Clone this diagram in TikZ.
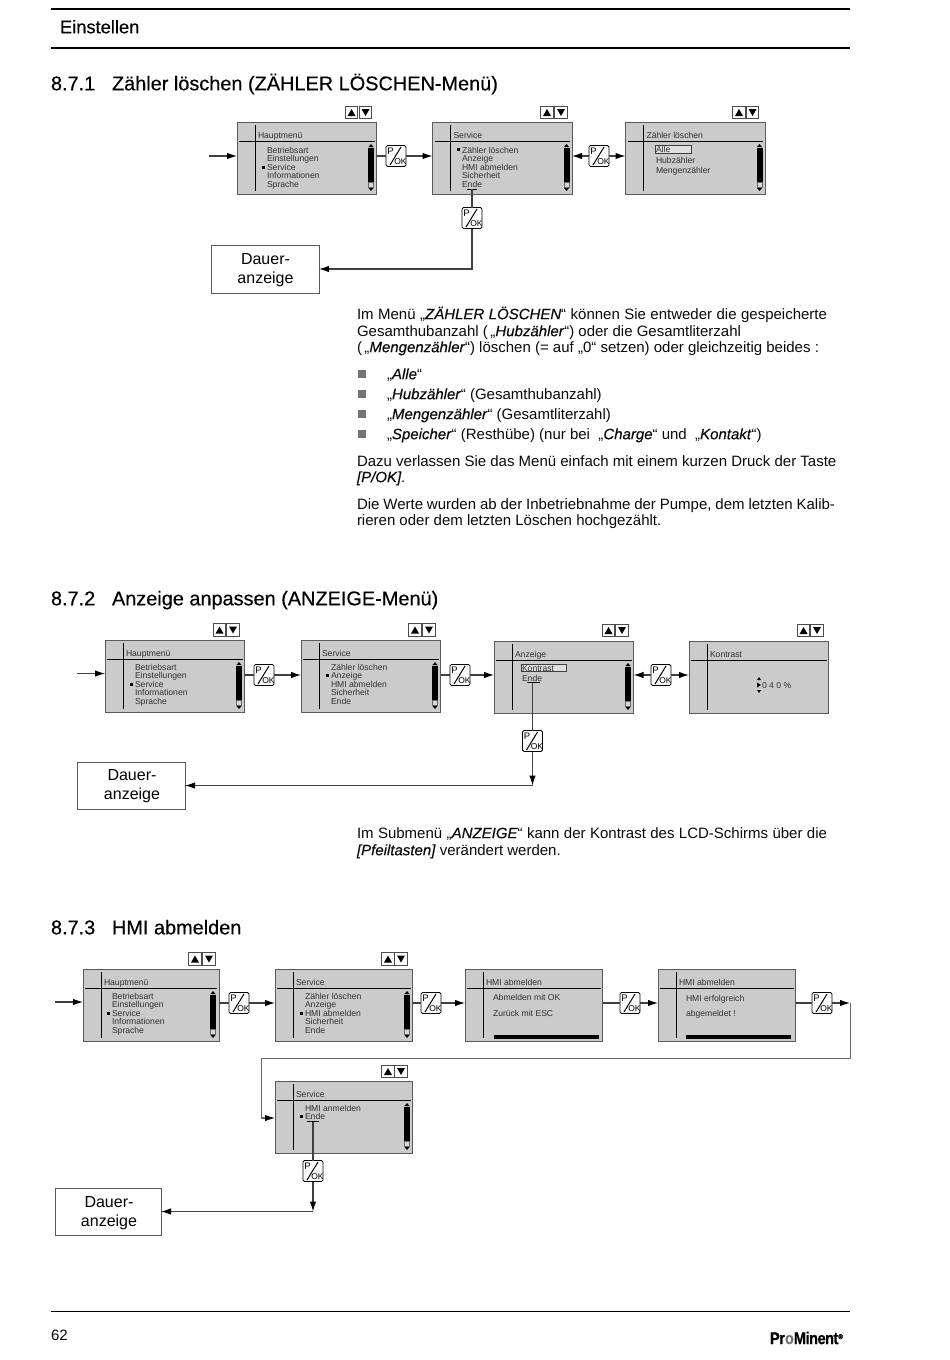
\documentclass[tikz,border=0pt]{standalone}
\usepackage{fontspec}
\setmainfont{Liberation Sans}
\usetikzlibrary{arrows.meta}
\definecolor{lcdfill}{HTML}{CBCBCB}
\definecolor{lcdedge}{HTML}{5A5A5A}
\definecolor{lcdtext}{HTML}{303030}
\definecolor{bodyink}{HTML}{0A0A0A}
\newcounter{tn}
\tikzset{
  x=1pt,y=-1pt,outer sep=0pt,
  lcdbox/.style={draw=lcdedge,line width=1pt,fill=lcdfill,inner sep=0,anchor=north west,minimum height=72pt},
  lcdrule/.style={line width=.9pt,black},
  lcdlabel/.style={anchor=base west,yshift=-3pt,inner sep=0,text=lcdtext,font=\fontsize{8.6}{10}\selectfont},
  bodytext/.style={anchor=base west,yshift=-5.2pt,inner sep=0,text=bodyink,font=\fontsize{15}{17}\selectfont},
  headtext/.style={anchor=base west,yshift=-7.3pt,inner sep=0,text=black,font=\fontsize{19.9}{24}\selectfont\addfontfeatures{FakeBold=.35}},
  restbox/.style={draw=lcdedge,line width=.8pt,fill=white,inner sep=0},
  resttext/.style={inner sep=0,align=center,text=black,font=\fontsize{16}{19}\selectfont},
  okbtn/.style={draw=black,line width=.8pt,fill=white,rounded corners=1.5pt,minimum width=20pt,minimum height=21pt,inner sep=0},
  keybtn/.style={draw=black!70,line width=.8pt,fill=white,minimum width=12.5pt,minimum height=12.5pt,inner sep=0},
  wire/.style={draw=black!75,line width=1.1pt},
  flow/.style={wire,-{Latex[length=10pt,width=6.5pt,black]}},
  sq/.style={fill=black!55,minimum width=8pt,minimum height=8pt,inner sep=0},
}
% text helper
\newcommand{\tx}[4]{\stepcounter{tn}\node[#1] (t\arabic{tn}) at (#2,#3) {#4};}
% LCD: name x y width title
\newcommand{\lcd}[5]{%
  \node[lcdbox,minimum width=#4 pt] (#1) at (#2,#3) {};
  \draw[lcdrule] (#2+18,#3+3) -- (#2+18,#3+69);
  \draw[lcdrule] (#2+2,#3+19) -- (#2+#4-2,#3+19);
  \tx{lcdlabel}{#2+21}{#3+13}{#5}}
% scroll bar: right edge, top
\newcommand{\sbar}[2]{%
  \fill[black] (#1-8.5,#2+25) -- (#1-3.5,#2+25) -- (#1-6,#2+22) -- cycle;
  \fill[black] (#1-9,#2+26) rectangle (#1-3,#2+60);
  \filldraw[fill=white!85!black,draw=black!60,line width=.3pt] (#1-8.5,#2+60) rectangle (#1-3.5,#2+65);
  \fill[black] (#1-8.5,#2+66) -- (#1-3.5,#2+66) -- (#1-6,#2+69) -- cycle;}
% up/down keys: name left-centre right-centre y
\newcommand{\keypair}[4]{%
  \node[keybtn] (#1u) at (#2,#4) {};
  \node[keybtn] (#1d) at (#3,#4) {};
  \fill[black] (#2-4,#4+3.5) -- (#2+4,#4+3.5) -- (#2,#4-3.5) -- cycle;
  \fill[black] (#3-4,#4-3.5) -- (#3+4,#4-3.5) -- (#3,#4+3.5) -- cycle;}
% P/OK button
\newcommand{\pok}[3]{%
  \node[okbtn] (#1) at (#2,#3) {};
  \draw[line width=1pt,black] (#2-6,#3+9) -- (#2+5,#3-9);
  \node[anchor=center,inner sep=0,font=\fontsize{9.5}{10}\selectfont] (#1p) at (#2-5.5,#3-4.5) {P};
  \node[anchor=center,inner sep=0,font=\fontsize{8.5}{10}\selectfont] (#1k) at (#2+4.5,#3+5.5) {OK};}
\newcommand{\lcdmark}[2]{\fill[black] (#1-1.5,#2-1.5) rectangle (#1+1.5,#2+1.5);}
\newcommand{\ital}[1]{\textit{\addfontfeatures{FakeBold=.4}#1}}
\begin{document}
\begin{tikzpicture}
\useasboundingbox (0,0) rectangle (950,1360);
\fill[white] (0,0) rectangle (950,1360);
% page frame
\coordinate (r1a) at (51,9); \coordinate (r1b) at (850,9);
\coordinate (r2a) at (51,47.5); \coordinate (r2b) at (850,47.5);
\coordinate (r3a) at (51,1311.5); \coordinate (r3b) at (850,1311.5);
\draw[line width=1.3pt] (r1a) -- (r1b);
\draw[line width=2pt] (r2a) -- (r2b);
\draw[line width=1.3pt] (r3a) -- (r3b);
\tx{headtext,font=\fontsize{18.3}{22}\selectfont\addfontfeatures{FakeBold=.35}}{60}{26}{Einstellen}
\tx{bodytext}{51}{1335}{62}
\node[anchor=west,inner sep=0,font=\fontsize{17}{20}\bfseries\selectfont\addfontfeatures{FakeBold=.5,FakeStretch=.86,LetterSpace=-3}] (logo) at (770,1338) {Pr\textcolor{black!55}{o}Minent\raisebox{5pt}{\fontsize{7}{7}\selectfont ®}};

% ---------- 8.7.1
\tx{headtext}{51}{83}{8.7.1}
\tx{headtext}{112}{83}{Zähler löschen (ZÄHLER LÖSCHEN-Menü)}
\lcd{a1}{237}{122}{139.5}{Hauptmenü}
\lcd{a2}{432.5}{122}{139.5}{Service}
\lcd{a3}{625.5}{122}{139.5}{Zähler löschen}
\sbar{377}{122}\sbar{572.5}{122}\sbar{765.5}{122}
\keypair{ka1}{351.5}{365.5}{112.5}
\keypair{ka2}{547}{561}{112.5}
\keypair{ka3}{739}{752.5}{112.5}
\foreach \s [count=\i from 0] in {Betriebsart,Einstellungen,Service,Informationen,Sprache}{\tx{lcdlabel}{267}{150+8.5*\i}{\s}}
\lcdmark{263}{167}
\foreach \s [count=\i from 0] in {Zähler löschen,Anzeige,HMI abmelden,Sicherheit,Ende}{\tx{lcdlabel}{462}{150+8.5*\i}{\s}}
\lcdmark{458.5}{149.5}
\node[draw=black!75,line width=.8pt,fill=lcdfill!60!white,minimum width=36pt,minimum height=8pt,inner sep=0] (al) at (673,149) {};
\tx{lcdlabel}{656}{149}{Alle}
\tx{lcdlabel}{656}{160}{Hubzähler}
\tx{lcdlabel}{656}{170}{Mengenzähler}
\coordinate (in1) at (209,156);
\coordinate (e1) at (472,189);
\coordinate (el1) at (467,189); \coordinate (er1) at (477,189);
\draw[line width=.8pt] (el1) -- (er1);
\pok{p1}{396}{156}\pok{p2}{599}{156}\pok{p3}{472}{218}
\node[restbox,minimum width=108pt,minimum height=48pt] (d1) at (265,269) {};
\tx{resttext}{265.5}{270.5}{Dauer-\\anzeige}
\draw[flow] (in1) -- (a1.west |- in1);
\draw[flow] (p1.east) -- (a2.west |- p1.east);
\draw[wire] (a1.east |- p1.west) -- (p1.west);
\draw[flow] (p2.west) -- (a2.east |- p2.west);
\draw[flow] (p2.east) -- (a3.west |- p2.east);
\draw[wire] (e1) -- (p3.north);
\coordinate (c1) at (p3.south |- d1.east);
\draw[flow] (p3.south) -- (c1) -- (d1.east);
% body 1
\tx{bodytext}{357}{314}{\makebox[470pt][s]{Im Menü „\ital{ZÄHLER LÖSCHEN}“ können Sie entweder die gespeicherte}}
\tx{bodytext}{357}{331}{Gesamthubanzahl (\,„\ital{Hubzähler}“) oder die Gesamtliterzahl}
\tx{bodytext}{357}{347}{(\,„\ital{Mengenzähler}“) löschen (= auf „0“ setzen) oder gleichzeitig beides :}
\foreach \yy/\s in {374/{„\ital{Alle}“},394/{„\ital{Hubzähler}“ (Gesamthubanzahl)},414/{„\ital{Mengenzähler}“ (Gesamtliterzahl)},434/{„\ital{Speicher}“ (Resthübe) (nur bei\ \ „\ital{Charge}“ und\ \ „\ital{Kontakt}“)}}{
  \node[sq] (b\yy) at (362,\yy) {};
  \tx{bodytext}{387}{\yy}{\s}}
\tx{bodytext}{357}{461}{Dazu verlassen Sie das Menü einfach mit einem kurzen Druck der Taste}
\tx{bodytext}{357}{477}{\ital{[P/OK]}.}
\tx{bodytext}{357}{504}{\makebox[478pt][s]{Die Werte wurden ab der Inbetriebnahme der Pumpe, dem letzten Kalib-}}
\tx{bodytext}{357}{520}{rieren oder dem letzten Löschen hochgezählt.}

% ---------- 8.7.2
\tx{headtext}{51}{598}{8.7.2}
\tx{headtext}{112}{598}{Anzeige anpassen (ANZEIGE-Menü)}
\lcd{m1}{105}{640}{139.5}{Hauptmenü}
\lcd{m2}{301}{640}{139.5}{Service}
\lcd{m3}{494}{641}{139.5}{Anzeige}
\lcd{m4}{689}{641}{139.5}{Kontrast}
\sbar{245}{640}\sbar{441}{640}\sbar{634}{641}
\keypair{km1}{219.5}{233}{630}
\keypair{km2}{415}{429}{630}
\keypair{km3}{608.5}{622}{630.5}
\keypair{km4}{803.5}{817}{630.5}
\foreach \s [count=\i from 0] in {Betriebsart,Einstellungen,Service,Informationen,Sprache}{\tx{lcdlabel}{135}{667+8.5*\i}{\s}}
\lcdmark{131}{684}
\foreach \s [count=\i from 0] in {Zähler löschen,Anzeige,HMI abmelden,Sicherheit,Ende}{\tx{lcdlabel}{331}{667+8.5*\i}{\s}}
\lcdmark{327}{675.5}
\node[draw=black!75,line width=.8pt,fill=lcdfill!60!white,minimum width=45pt,minimum height=7.5pt,inner sep=0] (kb) at (544,668) {};
\tx{lcdlabel}{522}{668}{Kontrast}
\tx{lcdlabel}{522}{678}{Ende}
\tx{lcdlabel}{762}{685}{0 4 0 \%}
\fill[black] (757,680) -- (761,680) -- (759,677) -- cycle;
\fill[black] (757,682.5) -- (757,687.5) -- (761,685) -- cycle;
\fill[black] (757,690) -- (761,690) -- (759,693) -- cycle;
\coordinate (in2) at (77,673.5);
\coordinate (e2) at (532.5,682.5);
\coordinate (el2) at (527,682.5); \coordinate (er2) at (540,682.5);
\draw[line width=.8pt] (el2) -- (er2);
\pok{q1}{264}{675}\pok{q2}{460}{675}\pok{q3}{661}{675}\pok{q4}{532.5}{741}
\node[restbox,minimum width=108pt,minimum height=47pt] (d2) at (131,785.5) {};
\tx{resttext}{132}{786.5}{Dauer-\\anzeige}
\draw[flow] (in2) -- (m1.west |- in2);
\draw[wire] (m1.east |- q1.west) -- (q1.west);
\draw[flow] (q1.east) -- (m2.west |- q1.east);
\draw[wire] (m2.east |- q2.west) -- (q2.west);
\draw[flow] (q2.east) -- (m3.west |- q2.east);
\draw[flow] (q3.west) -- (m3.east |- q3.west);
\draw[flow] (q3.east) -- (m4.west |- q3.east);
\draw[wire] (e2) -- (q4.north);
\coordinate (c2) at (q4.south |- d2.east);
\draw[flow] (q4.south) -- (c2);
\draw[flow] (c2) -- (d2.east);
\tx{bodytext}{357}{833}{\makebox[470pt][s]{Im Submenü „\ital{ANZEIGE}“ kann der Kontrast des LCD-Schirms über die}}
\tx{bodytext}{357}{850}{\ital{[Pfeiltasten]} verändert werden.}

% ---------- 8.7.3
\tx{headtext}{51}{927}{8.7.3}
\tx{headtext}{112}{927}{HMI abmelden}
\lcd{h1}{83}{969}{136}{Hauptmenü}
\lcd{h2}{275}{969}{137.5}{Service}
\lcd{h3}{465}{969}{137.5}{HMI abmelden}
\lcd{h4}{658}{969}{137.5}{HMI abmelden}
\lcd{h5}{275}{1081}{137.5}{Service}
\sbar{219}{969}\sbar{413}{969}\sbar{413}{1081}
\keypair{kh1}{195}{209}{959}
\keypair{kh2}{388}{401}{959}
\keypair{kh5}{388}{401}{1071.5}
\foreach \s [count=\i from 0] in {Betriebsart,Einstellungen,Service,Informationen,Sprache}{\tx{lcdlabel}{112}{996+8.5*\i}{\s}}
\lcdmark{108}{1013}
\foreach \s [count=\i from 0] in {Zähler löschen,Anzeige,HMI abmelden,Sicherheit,Ende}{\tx{lcdlabel}{305}{996+8.5*\i}{\s}}
\lcdmark{301}{1013}
\tx{lcdlabel}{493}{997}{Abmelden mit OK}
\tx{lcdlabel}{493}{1013}{Zurück mit ESC}
\tx{lcdlabel}{686}{998}{HMI erfolgreich}
\tx{lcdlabel}{686}{1013}{abgemeldet !}
\fill[black] (494,1035) rectangle (599,1038.5);
\fill[black] (686,1035) rectangle (791,1038.5);
\tx{lcdlabel}{305}{1108}{HMI anmelden}
\tx{lcdlabel}{305}{1116.5}{Ende}
\lcdmark{301}{1116.5}
\coordinate (in3) at (55,1002);
\coordinate (e3) at (313,1121.5);
\coordinate (el3) at (307,1121.5); \coordinate (er3) at (319,1121.5);
\draw[line width=.8pt] (el3) -- (er3);
\pok{u1}{239}{1003}\pok{u2}{431}{1003}\pok{u3}{630}{1003}\pok{u4}{822}{1003}\pok{u5}{313}{1171}
\node[restbox,minimum width=106pt,minimum height=47pt] (d3) at (108,1211.5) {};
\tx{resttext}{109}{1213}{Dauer-\\anzeige}
\draw[flow] (in3) -- (h1.west |- in3);
\draw[wire] (h1.east |- u1.west) -- (u1.west);
\draw[flow] (u1.east) -- (h2.west |- u1.east);
\draw[wire] (h2.east |- u2.west) -- (u2.west);
\draw[flow] (u2.east) -- (h3.west |- u2.east);
\draw[wire] (h3.east |- u3.west) -- (u3.west);
\draw[flow] (u3.east) -- (h4.west |- u3.east);
\draw[wire] (h4.east |- u4.west) -- (u4.west);
\coordinate (t3a) at (850,1003);
\coordinate (t3b) at (850,1058);
\coordinate (t3c) at (261,1058);
\coordinate (t3d) at (261,1118);
\draw[flow] (u4.east) -- (t3a);
\draw[wire,line width=.9pt,black!60] (t3a) -- (t3b) -- (t3c) -- (t3d);
\draw[flow,black!60] (t3d) -- (h5.west |- t3d);
\draw[wire] (e3) -- (u5.north);
\coordinate (c3) at (u5.south |- d3.east);
\draw[flow] (u5.south) -- (c3);
\draw[flow] (c3) -- (d3.east);
\end{tikzpicture}
\end{document}
